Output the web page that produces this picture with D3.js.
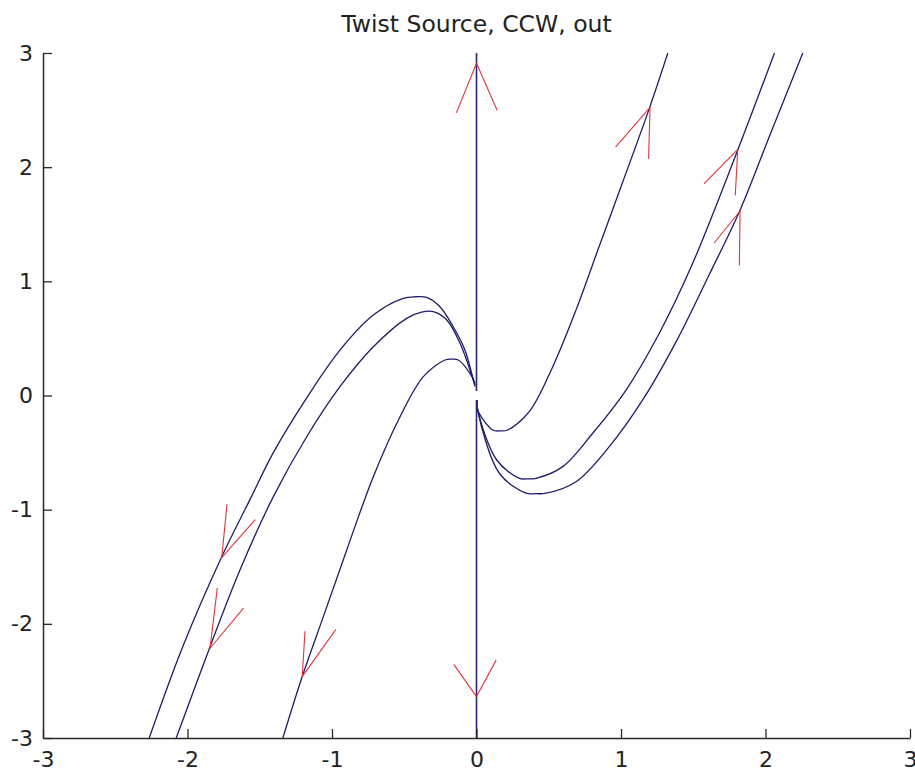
<!DOCTYPE html>
<html>
<head>
<meta charset="utf-8">
<script src="https://cdn.jsdelivr.net/npm/d3@7"></script>
<style>
  html, body { margin: 0; padding: 0; background: #ffffff; }
  svg { display: block; }
</style>
</head>
<body>
<svg id="chart" width="915" height="773"></svg>
<script>
// ---------- data (data units) ----------
const titleText = "Twist Source, CCW, out";
const xTicks = [-3, -2, -1, 0, 1, 2, 3];
const yTicks = [-3, -2, -1, 0, 1, 2, 3];
const xDomain = [-3, 3];
const yDomain = [-3, 3];

// trajectories leaving the origin (x, y pairs)
const leftOuter = [[-0.01,0.077],[-0.022,0.136],[-0.08,0.398],[-0.161,0.602],[-0.253,0.778],[-0.345,0.86],[-0.42,0.865],[-0.507,0.851],[-0.714,0.705],[-0.945,0.398],[-1.175,-0.02],[-1.406,-0.5],[-1.567,-0.91],[-1.763,-1.412],[-2.033,-2.2],[-2.265,-3.0]];
const leftMiddle = [[-0.01,0.092],[-0.045,0.223],[-0.114,0.457],[-0.206,0.661],[-0.299,0.734],[-0.38,0.73],[-0.483,0.676],[-0.714,0.427],[-0.945,0.077],[-1.175,-0.361],[-1.406,-0.886],[-1.637,-1.528],[-1.844,-2.2],[-2.078,-3.0]];
const leftInner = [[-0.01,0.107],[-0.045,0.194],[-0.126,0.311],[-0.172,0.318],[-0.218,0.311],[-0.368,0.165],[-0.529,-0.186],[-0.714,-0.711],[-0.898,-1.353],[-1.06,-1.937],[-1.206,-2.462],[-1.34,-3.0]];
const rightInner = [[0.003,-0.04],[0.008,-0.127],[0.112,-0.302],[0.164,-0.31],[0.216,-0.302],[0.365,-0.142],[0.527,0.25],[0.689,0.75],[0.85,1.31],[1.012,1.87],[1.196,2.515],[1.324,3.0]];
const rightMiddle = [[0.003,-0.04],[0.008,-0.127],[0.14,-0.565],[0.296,-0.725],[0.354,-0.73],[0.412,-0.725],[0.597,-0.623],[0.804,-0.331],[1.035,0.048],[1.265,0.545],[1.496,1.158],[1.808,2.15],[2.062,3.0]];
const rightOuter = [[0.003,-0.04],[0.008,-0.127],[0.158,-0.681],[0.343,-0.856],[0.412,-0.86],[0.481,-0.856],[0.689,-0.755],[0.919,-0.448],[1.15,-0.039],[1.381,0.47],[1.611,1.06],[1.819,1.609],[2.026,2.266],[2.258,3.0]];
const curves = [leftOuter, leftMiddle, leftInner, rightInner, rightMiddle, rightOuter];

// the vertical trajectory along x = 0
const axisUp = [[0, 0.04], [0, 3.0]];
const axisDown = [[0, -0.04], [0, -3.0]];

// arrowheads: tip point and two barb end points
const arrowTips = [[0, 2.91], [0, -2.637], [-1.763, -1.42], [-1.844, -2.214], [-1.206, -2.462], [1.201, 2.523], [1.808, 2.156], [1.824, 1.616]];
const arrowBarbA = [[-0.138, 2.48], [-0.155, -2.36], [-1.727, -0.955], [-1.794, -1.688], [-1.187, -2.068], [1.191, 2.077], [1.791, 1.756], [1.819, 1.143]];
const arrowBarbB = [[0.142, 2.50], [0.135, -2.32], [-1.533, -1.09], [-1.614, -1.864], [-0.975, -2.053], [0.965, 2.179], [1.577, 1.858], [1.646, 1.338]];

// ---------- drawing ----------
const svg = d3.select("#chart");
const margin = { left: 43, right: 5, top: 53, bottom: 35 };
const W = 915, H = 773;

const x = d3.scaleLinear().domain(xDomain).range([margin.left, W - margin.right]);
const y = d3.scaleLinear().domain(yDomain).range([H - margin.bottom, margin.top]);

const FONT = "'DejaVu Sans', 'Liberation Sans', sans-serif";
const TEXT = "#222";
const AXIS = "#2a2a2a";
const CURVE = "#1d1d68";
const ARROW = "#e0353f";

svg.append("defs").append("clipPath").attr("id", "plotclip")
  .append("rect")
  .attr("x", x(-3)).attr("y", y(3))
  .attr("width", x(3) - x(-3)).attr("height", y(-3) - y(3));

// title
svg.append("text")
  .attr("x", (x(-3) + x(3)) / 2)
  .attr("y", 32)
  .attr("text-anchor", "middle")
  .attr("font-family", FONT)
  .attr("font-size", "23.5px")
  .attr("fill", TEXT)
  .text(titleText);

const plot = svg.append("g").attr("clip-path", "url(#plotclip)");

const line = d3.line()
  .x(d => x(d[0]))
  .y(d => y(d[1]))
  .curve(d3.curveCatmullRom.alpha(0.5));

plot.selectAll("path.traj")
  .data(curves)
  .join("path")
  .attr("class", "traj")
  .attr("d", line)
  .attr("fill", "none")
  .attr("stroke", CURVE)
  .attr("stroke-width", 1.3);

const straight = d3.line().x(d => x(d[0])).y(d => y(d[1]));
plot.selectAll("path.vert")
  .data([axisUp, axisDown])
  .join("path")
  .attr("class", "vert")
  .attr("d", straight)
  .attr("fill", "none")
  .attr("stroke", "#26267a")
  .attr("stroke-width", 1.6);

// arrowheads
const arrowG = plot.append("g");
arrowTips.forEach((t, i) => {
  [arrowBarbA[i], arrowBarbB[i]].forEach(b => {
    arrowG.append("line")
      .attr("x1", x(t[0])).attr("y1", y(t[1]))
      .attr("x2", x(b[0])).attr("y2", y(b[1]))
      .attr("stroke", ARROW)
      .attr("stroke-width", 1.1)
      .attr("stroke-linecap", "round");
  });
});

// axes (inward ticks, MATLAB style)
const xAxis = d3.axisBottom(x).tickValues(xTicks).tickFormat(d3.format("d"))
  .tickSizeInner(-9).tickSizeOuter(0).tickPadding(13);
const yAxis = d3.axisLeft(y).tickValues(yTicks).tickFormat(d3.format("d"))
  .tickSizeInner(-9).tickSizeOuter(0).tickPadding(10);

const gx = svg.append("g").attr("transform", `translate(0,${y(-3)})`).call(xAxis);
const gy = svg.append("g").attr("transform", `translate(${x(-3)},0)`).call(yAxis);

[gx, gy].forEach(g => {
  g.select(".domain").attr("stroke", AXIS).attr("stroke-width", 1.5);
  g.selectAll(".tick line").attr("stroke", AXIS).attr("stroke-width", 1.3);
  g.selectAll(".tick text")
    .attr("font-family", FONT)
    .attr("font-size", "22px")
    .attr("fill", TEXT);
});
gx.selectAll(".tick text").text(d => String(d));
gy.selectAll(".tick text").text(d => String(d));
</script>
</body>
</html>
